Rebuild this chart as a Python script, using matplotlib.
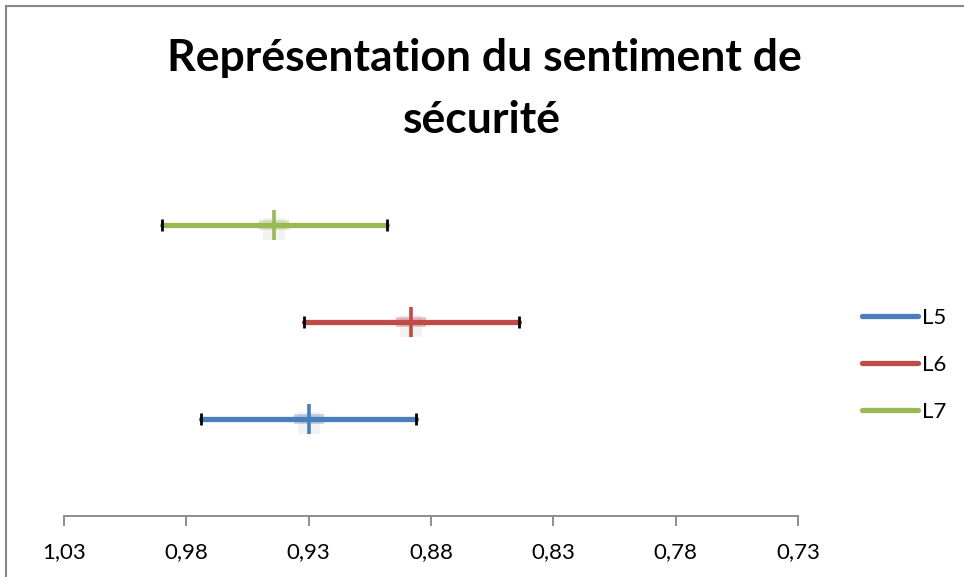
import matplotlib
matplotlib.use("Agg")
import matplotlib.pyplot as plt
from matplotlib.patches import Rectangle
from matplotlib.ticker import FuncFormatter

plt.rcParams['font.family'] = ['Lato', 'DejaVu Sans']

series = ["L5", "L6", "L7"]
positions = [1, 2, 3]
centers = [0.930, 0.888, 0.944]
lows = [0.886, 0.844, 0.898]
highs = [0.974, 0.932, 0.990]
colors = ["#4a7ebb", "#be4b48", "#98b954"]
xticks = [1.03, 0.98, 0.93, 0.88, 0.83, 0.78, 0.73]

fig = plt.figure(figsize=(9.64, 5.77), dpi=100)
fig.patches.append(Rectangle((6/964, -0.01), 1.0, 1 - 6/577 + 0.01, transform=fig.transFigure,
                             fill=False, edgecolor="#868686", linewidth=1.5))
ax = fig.add_axes([64/964, 1 - 516/577, (798 - 64)/964, (516 - 128)/577])

handles = []
for name, y, c, lo, hi, col in zip(series, positions, centers, lows, highs, colors):
    ln, = ax.plot([lo, hi], [y, y], color=col, lw=3.8, solid_capstyle='round', zorder=2, label=name)
    handles.append(ln)
    ax.plot([lo, hi], [y, y], linestyle='none', marker='|', markersize=8, mew=2,
            color='black', zorder=3)
    # soft shadow of the marker
    ax.plot([c], [y - 0.04], marker='s', markersize=16, color='#808080', alpha=0.10, mew=0, zorder=1.5)
    ax.plot([c], [y], marker='_', markersize=22, mew=7, color=col, alpha=0.35, zorder=2.5)
    ax.plot([c], [y], marker='+', markersize=22, mew=2.6, color=col, zorder=4)

ax.set_xlim(1.03, 0.73)
ax.set_ylim(0, 4)
ax.set_xticks(xticks)
ax.xaxis.set_major_formatter(FuncFormatter(lambda v, p: f"{v:.2f}".replace('.', ',')))
ax.set_yticks([])
for s in ['top', 'right', 'left']:
    ax.spines[s].set_visible(False)
ax.spines['bottom'].set_color('#868686')
ax.spines['bottom'].set_linewidth(1.3)
ax.tick_params(axis='x', direction='out', length=7, width=1.3, color='#868686',
               labelsize=16, pad=12, labelcolor='black')

fig.text(0.5 + 2/964, 1 - 58/577, "Représentation du sentiment de", ha='center', va='center',
         fontsize=32, fontweight='bold')
fig.text(0.5, 1 - 120/577, "sécurité", ha='center', va='center',
         fontsize=32, fontweight='bold')

leg = fig.legend(handles=handles, labels=series, loc='center left',
                 bbox_to_anchor=(842/964, 1 - 365/577), frameon=False, fontsize=16,
                 handlelength=2.5, handletextpad=0.2, labelspacing=1.22)

fig.savefig("out.png", dpi=100)
